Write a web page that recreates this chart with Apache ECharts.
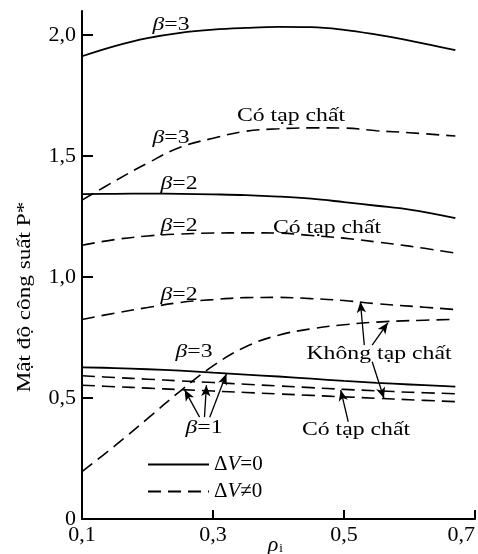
<!DOCTYPE html>
<html>
<head>
<meta charset="utf-8">
<script src="https://cdn.jsdelivr.net/npm/echarts@6/dist/echarts.min.js"></script>
<style>
  html, body { margin: 0; padding: 0; background: #fff; }
  #chart { width: 478px; height: 554px; }
</style>
</head>
<body>
<div id="chart"></div>
<script>
// truc hoanh rho_i
var rho = [0.1, 0.15, 0.2, 0.25, 0.3, 0.35, 0.4, 0.45, 0.5, 0.55, 0.6, 0.67];

// ΔV=0 (net lien)
var b3Solid = [1.913, 1.955, 1.988, 2.010, 2.023, 2.030, 2.034, 2.033, 2.022, 2.002, 1.978, 1.938];
var b2Solid = [1.343, 1.344, 1.345, 1.344, 1.342, 1.339, 1.333, 1.324, 1.310, 1.295, 1.279, 1.244];
var b1Solid = [0.627, 0.624, 0.619, 0.613, 0.605, 0.597, 0.589, 0.580, 0.571, 0.563, 0.556, 0.547];

// ΔV≠0, co tap chat
var b3Impure = [1.318, 1.397, 1.471, 1.537, 1.574, 1.603, 1.613, 1.617, 1.616, 1.605, 1.597, 1.583];
var b2Impure = [1.132, 1.155, 1.170, 1.178, 1.182, 1.183, 1.182, 1.172, 1.161, 1.145, 1.128, 1.099];
var b1Impure = [0.592, 0.585, 0.578, 0.571, 0.564, 0.557, 0.550, 0.543, 0.536, 0.530, 0.524, 0.518];

// ΔV≠0, khong tap chat
var b3Pure = [0.196, 0.302, 0.415, 0.529, 0.633, 0.712, 0.760, 0.786, 0.803, 0.814, 0.820, 0.825];
var b2Pure = [0.825, 0.851, 0.874, 0.895, 0.907, 0.915, 0.916, 0.911, 0.903, 0.890, 0.880, 0.866];
var b1Pure = [0.553, 0.547, 0.541, 0.535, 0.529, 0.523, 0.517, 0.511, 0.505, 0.499, 0.493, 0.485];

var xTicks = [0.1, 0.3, 0.5, 0.7];
var yTicks = [0, 0.5, 1, 1.5, 2];

// mui ten chu thich: [goc, dau mui]
var arrows = [
  [[0.2795, 0.421], [0.2567, 0.534]],
  [[0.287, 0.421], [0.290, 0.553]],
  [[0.295, 0.421], [0.3205, 0.600]],
  [[0.531, 0.719], [0.525, 0.898]],
  [[0.543, 0.719], [0.567, 0.811]],
  [[0.543, 0.650], [0.561, 0.499]],
  [[0.5065, 0.402], [0.495, 0.533]]
];

var serif = "'Liberation Serif', 'Times New Roman', serif";

function pairs(ys) {
  return rho.map(function (x, i) { return [x, ys[i]]; });
}

function curve(ys, dashed) {
  return {
    type: 'line',
    name: dashed ? 'ΔV≠0' : 'ΔV=0',
    data: pairs(ys),
    smooth: 0.4,
    symbol: 'none',
    silent: true,
    itemStyle: { color: '#000' },
    lineStyle: { color: '#000', width: dashed ? 1.6 : 1.8, type: dashed ? [13, 7] : 'solid' }
  };
}

function fmt(v) {
  return v === 0 ? '0' : v.toFixed(1).replace('.', ',');
}

// nhan tren do thi (chu hoi gian ngang giong hinh goc)
function note(text, x, y) {
  return {
    type: 'text', x: x, y: y, scaleX: 1.25, silent: true,
    style: {
      text: text, fill: '#000', align: 'center', verticalAlign: 'middle',
      fontSize: 19, fontFamily: serif,
      rich: { i: { fontStyle: 'italic', fontSize: 19, fontFamily: serif } }
    }
  };
}

var chart = echarts.init(document.getElementById('chart'));

var series = [
  curve(b3Solid, false), curve(b2Solid, false), curve(b1Solid, false),
  curve(b3Impure, true), curve(b2Impure, true), curve(b1Impure, true),
  curve(b3Pure, true), curve(b2Pure, true), curve(b1Pure, true),
  {
    type: 'line', name: 'arrows', data: [], silent: true,
    markLine: {
      silent: true, animation: false,
      symbol: ['none', 'arrow'], symbolSize: [7, 11],
      label: { show: false },
      emphasis: { disabled: true },
      lineStyle: { color: '#000', type: 'solid', width: 1.3 },
      data: arrows.map(function (a) { return [{ coord: a[0] }, { coord: a[1] }]; })
    }
  }
];

chart.setOption({
  animation: false,
  backgroundColor: '#fff',
  grid: { left: 82, right: 2, top: 11, bottom: 35 },
  legend: {
    data: ['ΔV=0', 'ΔV≠0'],
    orient: 'vertical',
    left: 147, top: 454, padding: 0,
    itemWidth: 61, itemHeight: 14, itemGap: 6,
    selectedMode: false,
    itemStyle: { opacity: 0 },
    formatter: function (name) {
      return name === 'ΔV=0' ? 'Δ{i|V}=0' : 'Δ{i|V}≠0';
    },
    textStyle: {
      color: '#000', fontSize: 21, fontFamily: serif, lineHeight: 20,
      rich: { i: { fontStyle: 'italic', fontSize: 21, fontFamily: serif } }
    }
  },
  xAxis: {
    type: 'value', min: 0.1, max: 0.7,
    axisLine: { lineStyle: { color: '#000', width: 2 } },
    axisTick: { inside: true, length: 9, customValues: xTicks, lineStyle: { color: '#000', width: 2 } },
    axisLabel: {
      customValues: xTicks, formatter: fmt, margin: 5, alignMaxLabel: 'right',
      color: '#000', fontSize: 22, fontFamily: serif
    },
    splitLine: { show: false }
  },
  yAxis: {
    type: 'value', min: 0, max: 2.1,
    axisLine: { show: true, lineStyle: { color: '#000', width: 2 } },
    axisTick: { show: true, inside: true, length: 11, customValues: yTicks, lineStyle: { color: '#000', width: 2 } },
    axisLabel: {
      customValues: yTicks, formatter: fmt, margin: 6,
      color: '#000', fontSize: 22, fontFamily: serif
    },
    splitLine: { show: false }
  },
  graphic: [
    {
      type: 'text', x: 25, y: 297, rotation: Math.PI / 2, scaleX: 1.22, silent: true,
      style: { text: 'Mật độ công suất P*', fill: '#000', align: 'center', verticalAlign: 'middle', fontSize: 19, fontFamily: serif }
    },
    {
      type: 'text', x: 273, y: 545, silent: true,
      style: { text: 'ρ', fill: '#000', align: 'center', verticalAlign: 'middle', fontSize: 22, fontStyle: 'italic', fontFamily: serif }
    },
    {
      type: 'text', x: 281, y: 549, silent: true,
      style: { text: 'i', fill: '#000', align: 'center', verticalAlign: 'middle', fontSize: 13, fontFamily: serif }
    },
    note('{i|β}=3', 171, 25),
    note('Có tạp chất', 291, 116),
    note('{i|β}=3', 171, 138),
    note('{i|β}=2', 179, 184),
    note('{i|β}=2', 179, 226),
    note('Có tạp chất', 327, 228),
    note('{i|β}=2', 179, 295),
    note('{i|β}=3', 194, 352),
    note('{i|β}=1', 204, 428),
    note('Không tạp chất', 379, 354),
    note('Có tạp chất', 356, 430)
  ],
  series: series
});
</script>
</body>
</html>
